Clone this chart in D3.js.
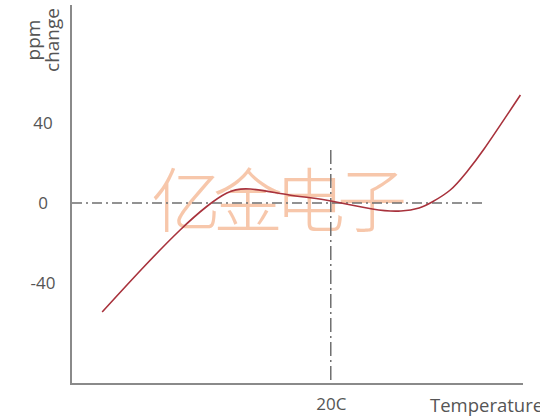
<!DOCTYPE html>
<html><head><meta charset="utf-8">
<script src="https://cdn.jsdelivr.net/npm/d3@7"></script>
<style>html,body{margin:0;padding:0;background:#fff;}</style>
</head><body>
<svg id="c" width="560" height="420"></svg>
<script>
// Temperature (°C) and ppm change
const temps = [-68, -52, -38, -28, -20, -11, 4, 18, 36, 47, 54, 59, 66, 72, 79, 93];
const ppm   = [-54.5, -32, -13.5, -2, 5, 7, 4, 1.5, -3, -4, -2.5, 0.5, 6.5, 15, 27, 54];
const yTicks = [40, 0, -40];
const yTickLabels = ["40", "0", "-40"];
const refTemp = 20;
const refLabel = "20C";
const xTitle = "Temperature";
const yTitle = ["ppm", "change"];
const watermark = "亿金电子";

const svg = d3.select("#c");
const x = d3.scaleLinear().domain([-80, 94]).range([71, 523]);
const y = d3.scaleLinear().domain([-90, 100]).range([383, 3]);
const font = "'Open Sans', 'Noto Sans', sans-serif";

svg.append("defs").append("clipPath").attr("id", "clipT")
  .append("rect").attr("x", 0).attr("y", 0).attr("width", 540).attr("height", 420);

// watermark
svg.append("text").attr("x", 151).attr("y", 227)
  .attr("font-family", "'Noto Sans CJK SC'").attr("font-weight", 200)
  .attr("font-size", 70).attr("fill", "#f5b590").attr("opacity", 0.75)
  .attr("textLength", 256).attr("lengthAdjust", "spacing")
  .text(watermark);

// reference lines
svg.append("line").attr("x1", x(-80) + 1).attr("x2", 485).attr("y1", y(0)).attr("y2", y(0))
  .attr("stroke", "#6f6f6f").attr("stroke-width", 1.5).attr("stroke-dasharray", "10,4,2,4");
svg.append("line").attr("x1", x(refTemp)).attr("x2", x(refTemp)).attr("y1", 150).attr("y2", y(-90))
  .attr("stroke", "#6f6f6f").attr("stroke-width", 1.5).attr("stroke-dasharray", "14,4,2,4");

// curve
const line = d3.line().x((d, i) => x(temps[i])).y(d => y(d)).curve(d3.curveNatural);
svg.append("path").datum(ppm).attr("d", line)
  .attr("fill", "none").attr("stroke", "#a8323c").attr("stroke-width", 1.6);

// axes
const yAxis = d3.axisLeft(y).tickValues(yTicks).tickFormat((d, i) => yTickLabels[i]).tickSize(0).tickPadding(0);
const gy = svg.append("g").attr("transform", `translate(${x(-80)},0)`).call(yAxis);
gy.select(".domain").attr("d", `M0,${5}V${y(-90) + 1}`).attr("stroke", "#8a8a8a").attr("stroke-width", 2);
gy.selectAll("text").attr("x", -28).attr("text-anchor", "middle").attr("font-size", 17)
  .attr("font-family", font).attr("fill", "#555");

const xAxis = d3.axisBottom(x).tickValues([refTemp]).tickFormat(() => refLabel).tickSize(0).tickPadding(14);
const gx = svg.append("g").attr("transform", `translate(0,${y(-90) + 1})`).call(xAxis);
gx.select(".domain").attr("d", `M${x(-80) - 1},0H${x(94)}`).attr("stroke", "#8a8a8a").attr("stroke-width", 2);
gx.selectAll("text").attr("font-size", 17).attr("font-family", font).attr("fill", "#555");

svg.append("text").attr("x", 430).attr("y", 412).attr("font-size", 18.5)
  .attr("font-family", font).attr("fill", "#555").attr("clip-path", "url(#clipT)").text(xTitle);

// y title (rotated)
yTitle.forEach((t, i) => {
  svg.append("text").attr("transform", `translate(${40 + i * 19},${40}) rotate(-90)`)
    .attr("text-anchor", "middle").attr("font-size", 19).attr("font-family", font)
    .attr("fill", "#555").text(t);
});
</script>
</body></html>
